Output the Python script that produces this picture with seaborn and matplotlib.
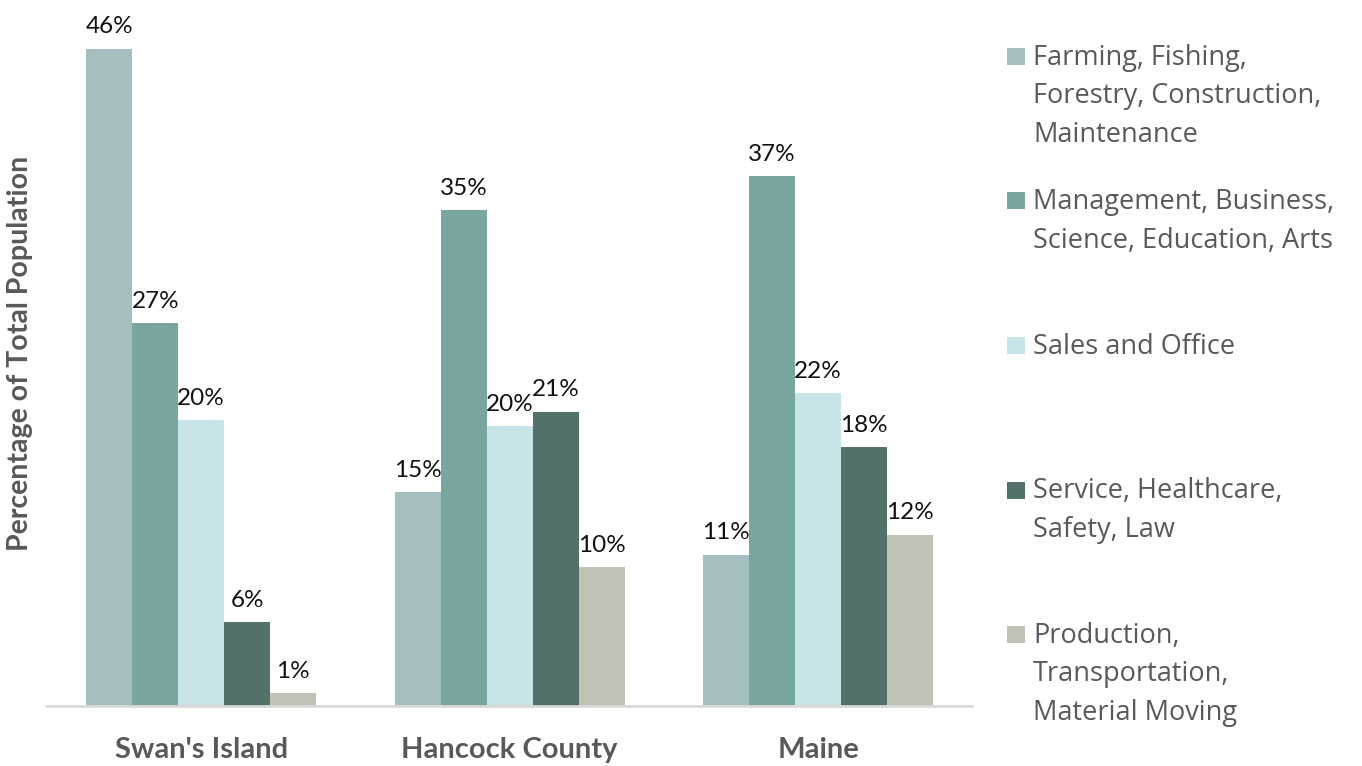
import pandas as pd
import matplotlib
matplotlib.use("Agg")
import matplotlib.pyplot as plt
from matplotlib.patches import Rectangle
import seaborn as sns

# data
regions = ["Swan's Island", "Hancock County", "Maine"]
occupations = [
    "Farming, Fishing,\nForestry, Construction,\nMaintenance",
    "Management, Business,\nScience, Education, Arts",
    "Sales and Office",
    "Service, Healthcare,\nSafety, Law",
    "Production,\nTransportation,\nMaterial Moving",
]
farming = [46.0, 15.0, 10.6]
management = [26.8, 34.7, 37.1]
sales = [20.0, 19.6, 21.9]
service = [5.9, 20.6, 18.1]
production = [0.9, 9.7, 12.0]

colors = ["#A5BFC0", "#79A7A0", "#C7E4E8", "#52716B", "#BFC3B4"]

rows = []
for occ, vals in zip(occupations, [farming, management, sales, service, production]):
    for reg, v in zip(regions, vals):
        rows.append({"region": reg, "occupation": occ, "pct": v})
df = pd.DataFrame(rows)

sns.set_style("white")
plt.rcParams["font.family"] = ["Lato", "DejaVu Sans"]

fig = plt.figure(figsize=(13.62, 7.66), dpi=100)
ax = fig.add_axes([0.0345, 0.0783, 0.6795, 0.9217])

sns.barplot(data=df, x="region", y="pct", hue="occupation", order=regions,
            hue_order=occupations, palette=colors, saturation=1,
            width=0.746, legend=False, linewidth=0, ax=ax)

for cont in ax.containers:
    ax.bar_label(cont, labels=[f"{b.get_height():.0f}%" for b in cont],
                 padding=8, fontsize=17.5, color="#111111")

ax.set_xlim(-0.5, 2.5)
ax.set_ylim(0, 49.4)
ax.set_yticks([])
ax.set_xlabel("")
ax.set_ylabel("Percentage of Total Population", fontsize=20.5, fontweight="bold",
              color="#595959", labelpad=10)
ax.tick_params(axis="x", length=0, pad=22)
for lbl in ax.get_xticklabels():
    lbl.set_fontsize(21)
    lbl.set_fontweight("bold")
    lbl.set_color("#595959")
for side in ["top", "right", "left"]:
    ax.spines[side].set_visible(False)
ax.spines["bottom"].set_color("#D9D9D9")
ax.spines["bottom"].set_linewidth(2)

# legend drawn Excel-style: evenly spaced entries, marker at first line
top = 1 - 44 / 766
step = 144.5 / 766
for i, (occ, col) in enumerate(zip(occupations, colors)):
    y = top - i * step
    fig.patches.append(Rectangle((1007 / 1362, y - 21 / 766), 18 / 1362, 17 / 766,
                                 transform=fig.transFigure, facecolor=col,
                                 edgecolor="none"))
    fig.text(1033 / 1362, y, occ, ha="left", va="top", fontsize=19.5,
             color="#595959", family=["Open Sans", "DejaVu Sans"],
             linespacing=1.5)

fig.savefig("out.png", dpi=100)
